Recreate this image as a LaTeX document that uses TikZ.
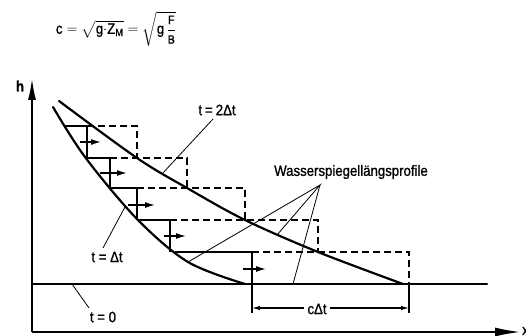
\documentclass[tikz,border=0pt]{standalone}
\usepackage{amsmath}
\usepackage{fontspec}
\setmainfont{Liberation Sans}[FakeStretch=0.88, FakeBold=1]
\usetikzlibrary{arrows.meta}
\newcommand{\frsz}[1]{\text{\fontsize{12}{13}\selectfont #1}}
\begin{document}
\begin{tikzpicture}[x=1pt,y=-1pt,
  lbl/.style={font=\fontsize{15}{17}\selectfont, inner sep=0pt},
  curve/.style={line width=2.2pt, line cap=round},
  stair/.style={line width=1.4pt},
  dsh/.style={line width=1.3pt, dash pattern=on 7pt off 4pt},
  lead/.style={line width=0.8pt},
  axis/.style={line width=2pt},
  mv/.style={line width=1.4pt,-{Latex[length=10pt,width=6pt]}},
  dimarrow/.style={line width=1.1pt,-{Latex[length=8pt,width=4.5pt]}}
]
\useasboundingbox (0,0) rectangle (526,336);

% formula
\node[font=\fontsize{15}{17}\selectfont, inner sep=0pt, anchor=north] (formula) at (116,11)
  {$\text{c}=\sqrt{\text{g}{\cdot}\text{Z}_{\text{M}}}=\sqrt{\text{g}\,\dfrac{\frsz{F}}{\frsz{B}}}$};

% axes
\coordinate (O) at (32,332);
\coordinate (ytop) at (32,78);
\coordinate (xend) at (521,332);
\draw[axis,-{Latex[length=22pt,width=8pt]}] (O) -- (ytop);
\draw[axis,-{Latex[length=26pt,width=9pt]}] (O) -- (xend);
\node[font=\bfseries\fontsize{15}{17}\selectfont, inner sep=0pt] (hlab) at (20,86) {h};
\node[font=\fontsize{15}{17}\selectfont, inner sep=0pt, anchor=west] (xlab) at (522,331) {x};

% t = 0 line
\coordinate (z0) at (32,284);
\coordinate (z1) at (487,284);
\draw[curve] (z0) -- (z1);

% stairs (solid, t = Delta t)
\draw[stair] (65,126) -- (87,126) -- (87,158);
\draw[stair] (85,158) -- (110,158) -- (110,188);
\draw[stair] (109,188) -- (137,188) -- (137,220);
\draw[stair] (137,220) -- (170,220) -- (170,252);
\draw[stair] (175,252) -- (252,252) -- (252,313);

% stairs (dashed, shifted)
\draw[dsh] (87,126) -- (137,126) -- (137,158);
\draw[dsh] (110,158) -- (187,158) -- (187,188);
\draw[dsh] (137,188) -- (245,188) -- (245,220);
\draw[dsh] (170,220) -- (318,220) -- (318,252);
\draw[dsh] (252,252) -- (409,252) -- (409,284);
\draw[stair] (409,284) -- (409,313);

% curves
\draw[curve] plot[smooth, tension=0.55] coordinates
  {(53,107) (85,157) (137,219) (188,262) (245,284)};
\draw[curve] plot[smooth, tension=0.55] coordinates
  {(59,101) (137,158) (187,188) (245,220) (318,252) (403,284)};

% movement arrows
\draw[mv] (80,142) -- (101,142);
\draw[mv] (100,173) -- (127,173);
\draw[mv] (128,205) -- (155,205);
\draw[mv] (164,236) -- (186,236);
\draw[mv] (243,269) -- (266,269);

% labels and leaders
\node[lbl] (l2dt) at (217,110) {t\hspace{3pt}=\hspace{3pt}2Δt};
\coordinate (c2dt) at (162,174);
\draw[lead] (213,119) -- (c2dt);

\node[lbl] (ldt) at (107,257) {t = Δt};
\coordinate (cdt) at (125,207);
\draw[lead] (103,248) -- (cdt);

\node[lbl] (lt0) at (103,317) {t = 0};
\coordinate (ct0) at (72,284);
\draw[lead] (89,308) -- (ct0);

\node[lbl] (lws) at (351,172) {Wasserspiegellängsprofile};
\coordinate (apex) at (320,185);
\coordinate (w1) at (188,262);
\coordinate (w2) at (277,235);
\coordinate (w3) at (293,284);
\draw[lead] (w1) -- (apex) -- (w2);
\draw[lead] (apex) -- (w3);

% c Delta t dimension
\node[lbl] (lcdt) at (317,309) {cΔt};
\coordinate (dl) at (252,308);
\coordinate (dr) at (409,308);
\draw[dimarrow] (lcdt.west) ++(-3,-1) -- (dl);
\draw[dimarrow] (lcdt.east) ++(3,-1) -- (dr);
\end{tikzpicture}
\end{document}
